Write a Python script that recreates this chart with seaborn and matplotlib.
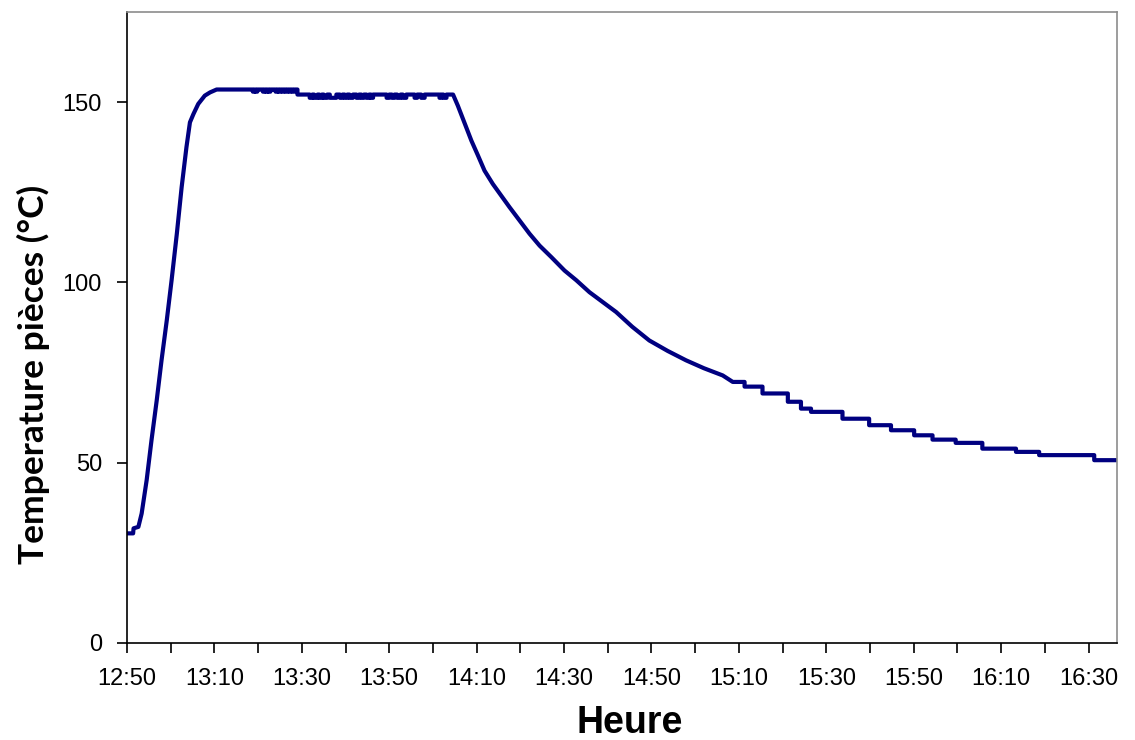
import matplotlib
matplotlib.use("Agg")
import matplotlib.pyplot as plt
import seaborn as sns
import pandas as pd

# minutes after 12:50 and piece temperature (°C)
heat_minutes = [0, 1.4, 1.5, 2.6, 3.35, 4.5, 5.6, 6.8, 7.9, 9.1, 10.2, 11.4,
                12.5, 13.6, 14.4, 15.2, 16.3, 17.8, 19.0, 20.5]
heat_temp = [30.4, 30.4, 31.8, 32.2, 35.9, 45.2, 56.2, 67.3, 78.4, 89.5,
             100.6, 113.5, 126.4, 137.5, 144.4, 146.7, 149.5, 151.8, 152.7, 153.5]

# holding plateau: two levels, with short dips (start, end) in minutes
hold_levels = [(20.5, 39.0, 153.5, 152.9), (39.0, 74.6, 152.1, 151.2)]
hold_dips = [
    (28.8, 29.2), (29.4, 29.8), (31.1, 31.5), (31.8, 32.2), (32.4, 32.8),
    (34.0, 34.4), (34.7, 35.1), (35.5, 35.9), (36.3, 36.7), (37.1, 37.5), (37.9, 38.3),
    (41.8, 42.4), (42.8, 43.6), (44.0, 44.6), (45.0, 45.8), (46.4, 47.9),
    (48.7, 49.3), (49.8, 50.4), (50.9, 51.7),
    (52.5, 53.1), (53.6, 54.2), (54.8, 55.4), (55.8, 56.3),
    (59.4, 60.0), (60.6, 61.2), (61.8, 62.6), (63.1, 63.9),
    (65.8, 66.4), (67.3, 68.1),
    (71.5, 71.9), (72.4, 73.1),
]

cool_minutes = [74.6, 75.7, 77.3, 78.8, 80.3, 81.8, 83.7, 85.6, 87.5, 89.8,
                92.1, 94.4, 97.1, 100.1, 102.8, 105.8, 108.9, 111.9, 115.6,
                119.5, 123.7, 127.9, 132.0, 136.3, 138.6]
cool_temp = [151.8, 149.0, 144.0, 139.3, 135.2, 131.0, 127.3, 124.1, 120.9,
             117.2, 113.5, 110.2, 107.0, 103.3, 100.6, 97.3, 94.5, 91.8, 87.7,
             83.9, 81.0, 78.4, 76.2, 74.2, 72.4]

# final stair-step tail: minute where each level starts, and its temperature
step_start = [138.6, 141.3, 145.4, 151.2, 154.2, 156.5, 163.7, 169.8, 174.8,
              180.1, 184.3, 189.6, 195.7, 203.4, 208.7, 221.3]
step_temp = [72.4, 71.1, 69.2, 66.9, 65.0, 64.1, 62.2, 60.4, 59.0, 57.6,
             56.4, 55.5, 53.9, 53.0, 52.1, 50.7]
end_minute = 226.5

tick_minutes = list(range(0, 230, 10))
tick_labels = ["12:50", "", "13:10", "", "13:30", "", "13:50", "", "14:10", "",
               "14:30", "", "14:50", "", "15:10", "", "15:30", "", "15:50", "",
               "16:10", "", "16:30"]
y_ticks = [0, 50, 100, 150]

# ---- assemble the series ----
xs = list(heat_minutes)
ys = list(heat_temp)
for start, end, level, low in hold_levels:
    xs.append(start)
    ys.append(level)
    for d0, d1 in hold_dips:
        if start <= d0 and d1 <= end:
            xs += [d0, d0, d1, d1]
            ys += [level, low, low, level]
    xs.append(end)
    ys.append(level)
xs += cool_minutes[1:]
ys += cool_temp[1:]
bounds = step_start[1:] + [end_minute]
for s, e, t in zip(step_start, bounds, step_temp):
    xs += [s, e]
    ys += [t, t]

df = pd.DataFrame({"minutes": xs, "temperature": ys})

sns.set_style("white")
plt.rcParams["font.family"] = ["Liberation Sans", "DejaVu Sans"]
plt.rcParams["text.color"] = "black"
plt.rcParams["axes.labelcolor"] = "black"
plt.rcParams["xtick.color"] = "black"
plt.rcParams["ytick.color"] = "black"

fig = plt.figure(figsize=(11.35, 7.4), dpi=100)
ax = fig.add_axes([0.1119, 0.1311, 0.8722, 0.8527])

sns.lineplot(data=df, x="minutes", y="temperature", estimator=None, sort=False,
             color="#000080", linewidth=3.0, ax=ax)

ax.set_xlim(0, end_minute)
ax.set_ylim(0, 175)
ax.set_xticks(tick_minutes)
ax.set_xticklabels(tick_labels)
ax.set_yticks(y_ticks)
ax.tick_params(axis="both", direction="out", length=7, width=1.2,
               bottom=True, left=True, labelsize=17, labelcolor="black")
ax.tick_params(axis="x", pad=11)
ax.tick_params(axis="y", pad=11)

for side in ["left", "bottom"]:
    ax.spines[side].set_color("black")
    ax.spines[side].set_linewidth(1.2)
for side in ["top", "right"]:
    ax.spines[side].set_color("#8c8c8c")
    ax.spines[side].set_linewidth(1.2)

ax.set_xlabel("Heure", fontsize=27, fontweight="bold")
ax.xaxis.set_label_coords(0.508, -0.098)
ax.set_ylabel("Temperature pièces (°C)", fontsize=25.5, fontweight="bold",
              family=["Lato", "DejaVu Sans"])
ax.yaxis.set_label_coords(-0.078, 0.425)

fig.savefig("out.png", dpi=100)
